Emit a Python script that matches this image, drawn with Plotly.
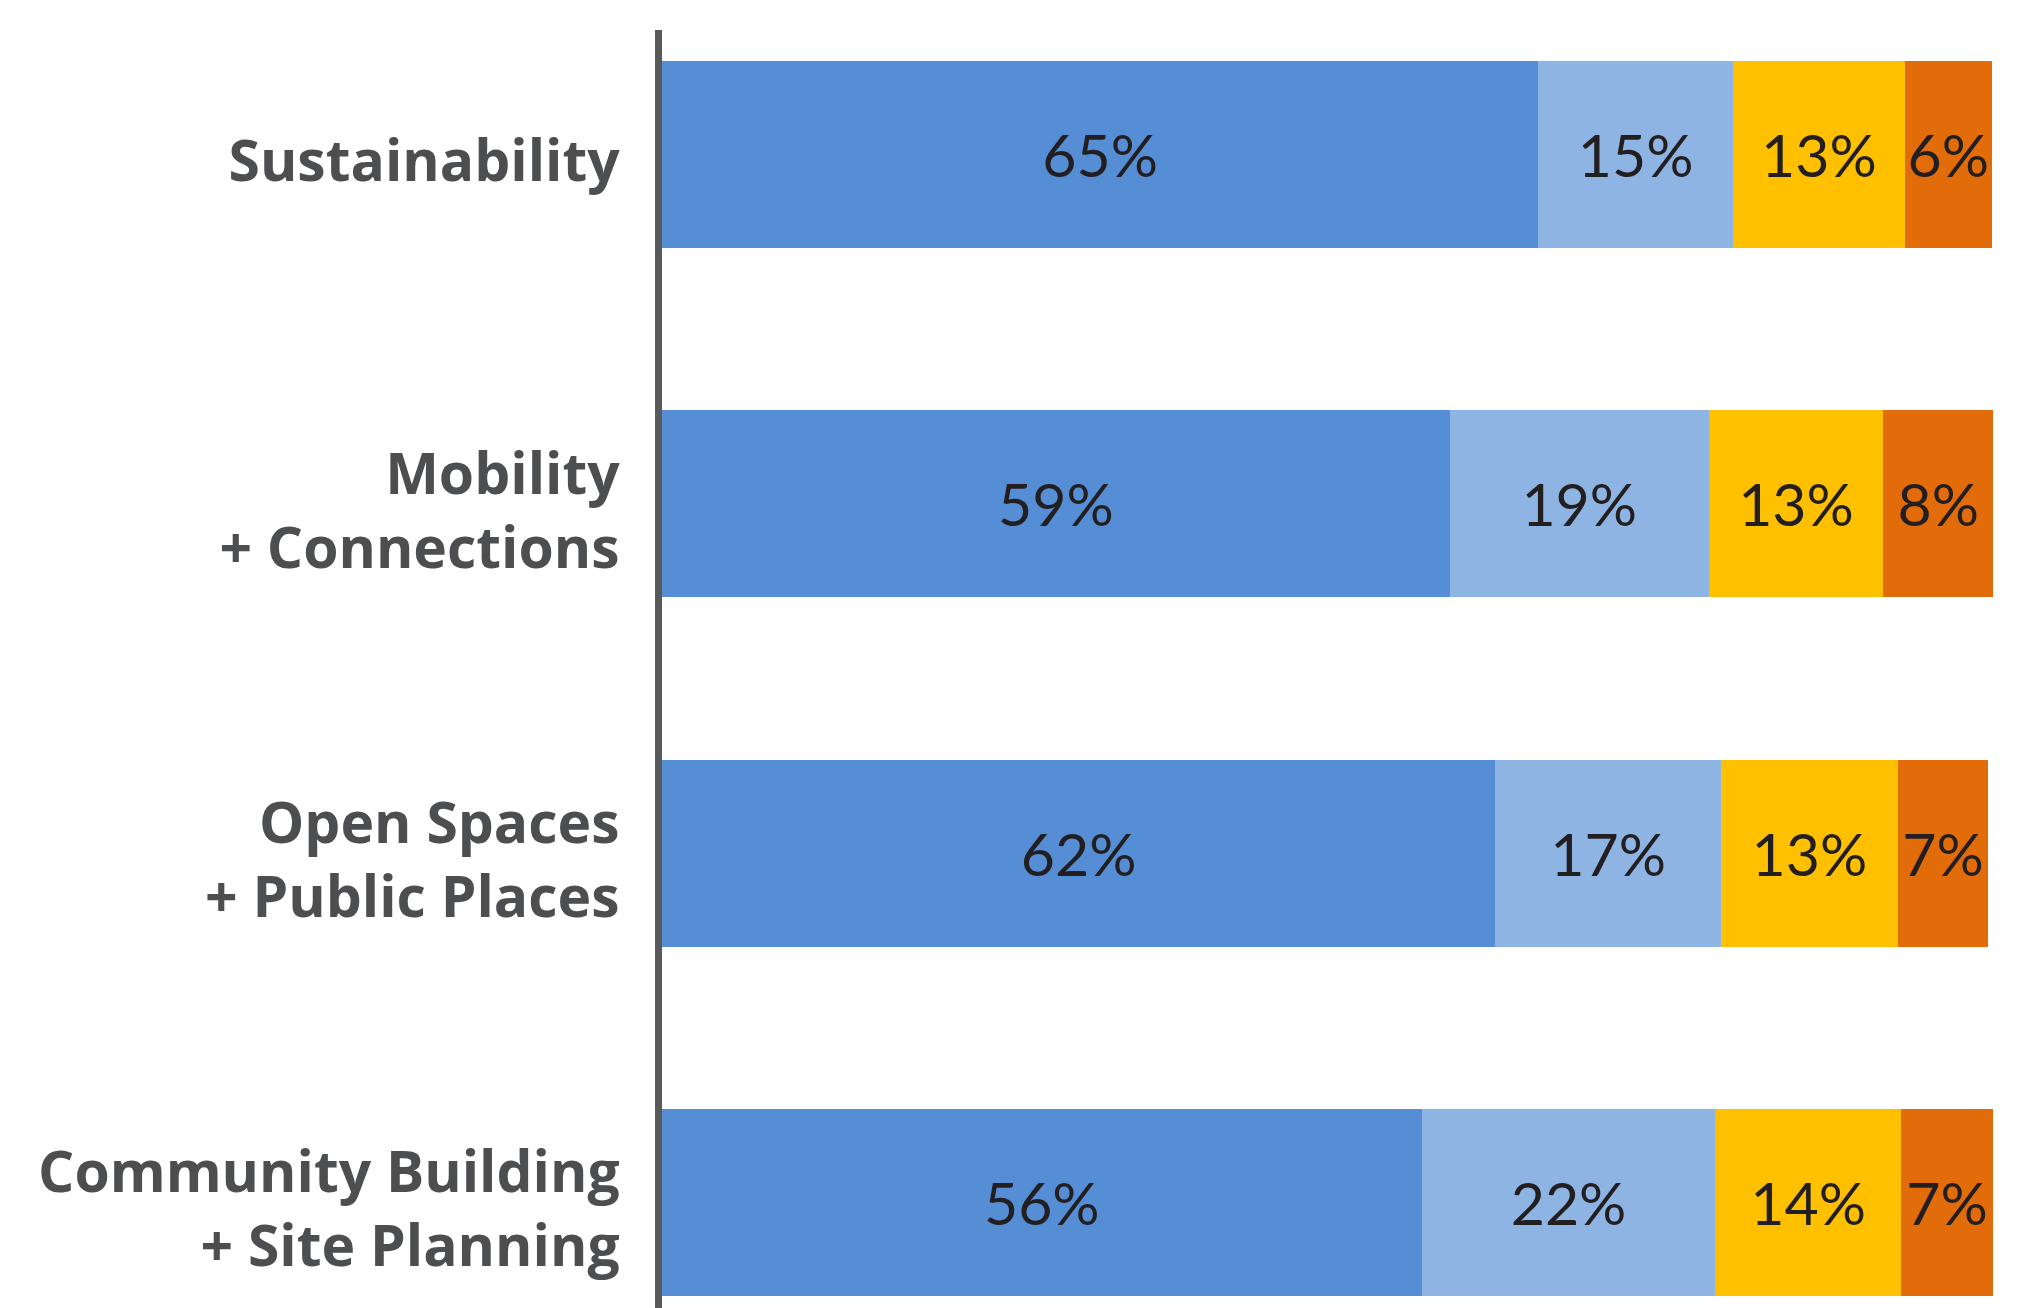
import plotly.graph_objects as go

categories = ["Sustainability", "Mobility<br>+ Connections", "Open Spaces<br>+ Public Places",
              "Community Building<br>+ Site Planning"]

# segment lengths (percent) as drawn
seg1 = [65.3, 58.7, 62.1, 56.6]
seg2 = [14.5, 19.3, 16.8, 21.9]
seg3 = [12.8, 13.0, 13.2, 13.8]
seg4 = [6.5, 8.2, 6.7, 6.9]

# printed labels
lab1 = ["65%", "59%", "62%", "56%"]
lab2 = ["15%", "19%", "17%", "22%"]
lab3 = ["13%", "13%", "13%", "14%"]
lab4 = ["6%", "8%", "7%", "7%"]

colors = ["#558ED5", "#8EB4E3", "#FFC000", "#E36C0A"]

fig = go.Figure()
for vals, labs, col in zip([seg1, seg2, seg3, seg4], [lab1, lab2, lab3, lab4], colors):
    fig.add_trace(go.Bar(
        y=categories, x=vals, orientation="h",
        marker=dict(color=col, line=dict(width=0)),
        text=labs, textposition="inside", insidetextanchor="middle",
        constraintext="none", texttemplate="%{text}", textangle=0,
        textfont=dict(family="Lato", size=59, color="#231f20"),
        width=0.535, showlegend=False, hoverinfo="skip",
    ))

fig.update_layout(
    barmode="stack",
    width=2027, height=1300,
    margin=dict(l=654, r=31, t=22, b=0),
    paper_bgcolor="white", plot_bgcolor="white",
    xaxis=dict(range=[0, 100], visible=False, showgrid=False, zeroline=False),
    yaxis=dict(
        type="category", range=[3.302, -0.356],
        showline=True, linewidth=7, linecolor="#58595b",
        showgrid=False, zeroline=False, ticks="",
        ticklabelstandoff=24, ticklabelshift=-7,
        tickfont=dict(family="Open Sans", size=57, color="#4d4e50", weight="bold"),
    ),
)

fig.write_html("out.html")
